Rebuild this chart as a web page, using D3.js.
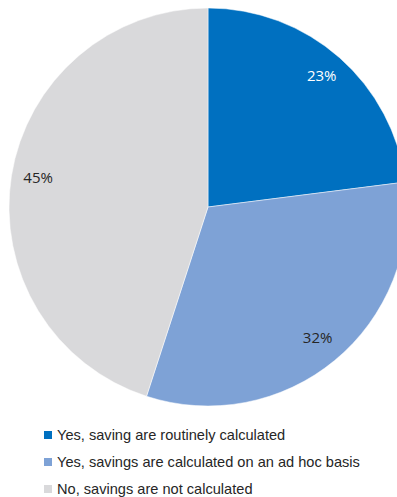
<!DOCTYPE html>
<html>
<head>
<meta charset="utf-8">
<script src="https://cdn.jsdelivr.net/npm/d3@7"></script>
<style>
  html, body { margin: 0; padding: 0; background: #fff; }
  svg { display: block; }
</style>
</head>
<body>
<svg id="chart" width="397" height="497"></svg>
<script>
// Survey answers and their shares (%)
const categories = [
  "Yes, saving are routinely calculated",
  "Yes, savings are calculated on an ad hoc basis",
  "No, savings are not calculated"
];
const values = [23, 32, 45];
const colors = ["#0070C0", "#7EA2D6", "#D9D9DB"];
const labelColors = ["#FFFFFF", "#262626", "#262626"];

const svg = d3.select("#chart");
const cx = 208, cy = 207, radius = 199;

const pie = d3.pie().sort(null).value(d => d)(values);
const arc = d3.arc().innerRadius(0).outerRadius(radius);
const labelArc = d3.arc().innerRadius(172).outerRadius(172);

const g = svg.append("g").attr("transform", `translate(${cx},${cy})`);

g.selectAll("path")
  .data(pie)
  .join("path")
  .attr("d", arc)
  .attr("fill", (d, i) => colors[i])
  .attr("stroke", "#fff")
  .attr("stroke-width", 0.5);

// Percentage labels, placed along a ring inside the pie
g.selectAll("text")
  .data(pie)
  .join("text")
  .attr("transform", d => {
    const [x, y] = labelArc.centroid(d);
    return `translate(${x},${y - 3})`;
  })
  .attr("text-anchor", "middle")
  .attr("dominant-baseline", "central")
  .attr("font-family", "'Open Sans', 'Noto Sans', sans-serif")
  .attr("font-size", 15)
  .attr("fill", (d, i) => labelColors[i])
  .text(d => d.data + "%");

// Legend
const legend = svg.append("g").attr("transform", "translate(44,435)");
const rows = legend.selectAll("g")
  .data(categories)
  .join("g")
  .attr("transform", (d, i) => `translate(0,${i * 27})`);

rows.append("rect")
  .attr("x", 0).attr("y", -4)
  .attr("width", 8).attr("height", 8)
  .attr("fill", (d, i) => colors[i]);

rows.append("text")
  .attr("x", 13)
  .attr("y", 0)
  .attr("dominant-baseline", "central")
  .attr("font-family", "'Liberation Sans', Arial, sans-serif")
  .attr("font-size", 14.6)
  .attr("fill", "#262626")
  .text(d => d);
</script>
</body>
</html>
